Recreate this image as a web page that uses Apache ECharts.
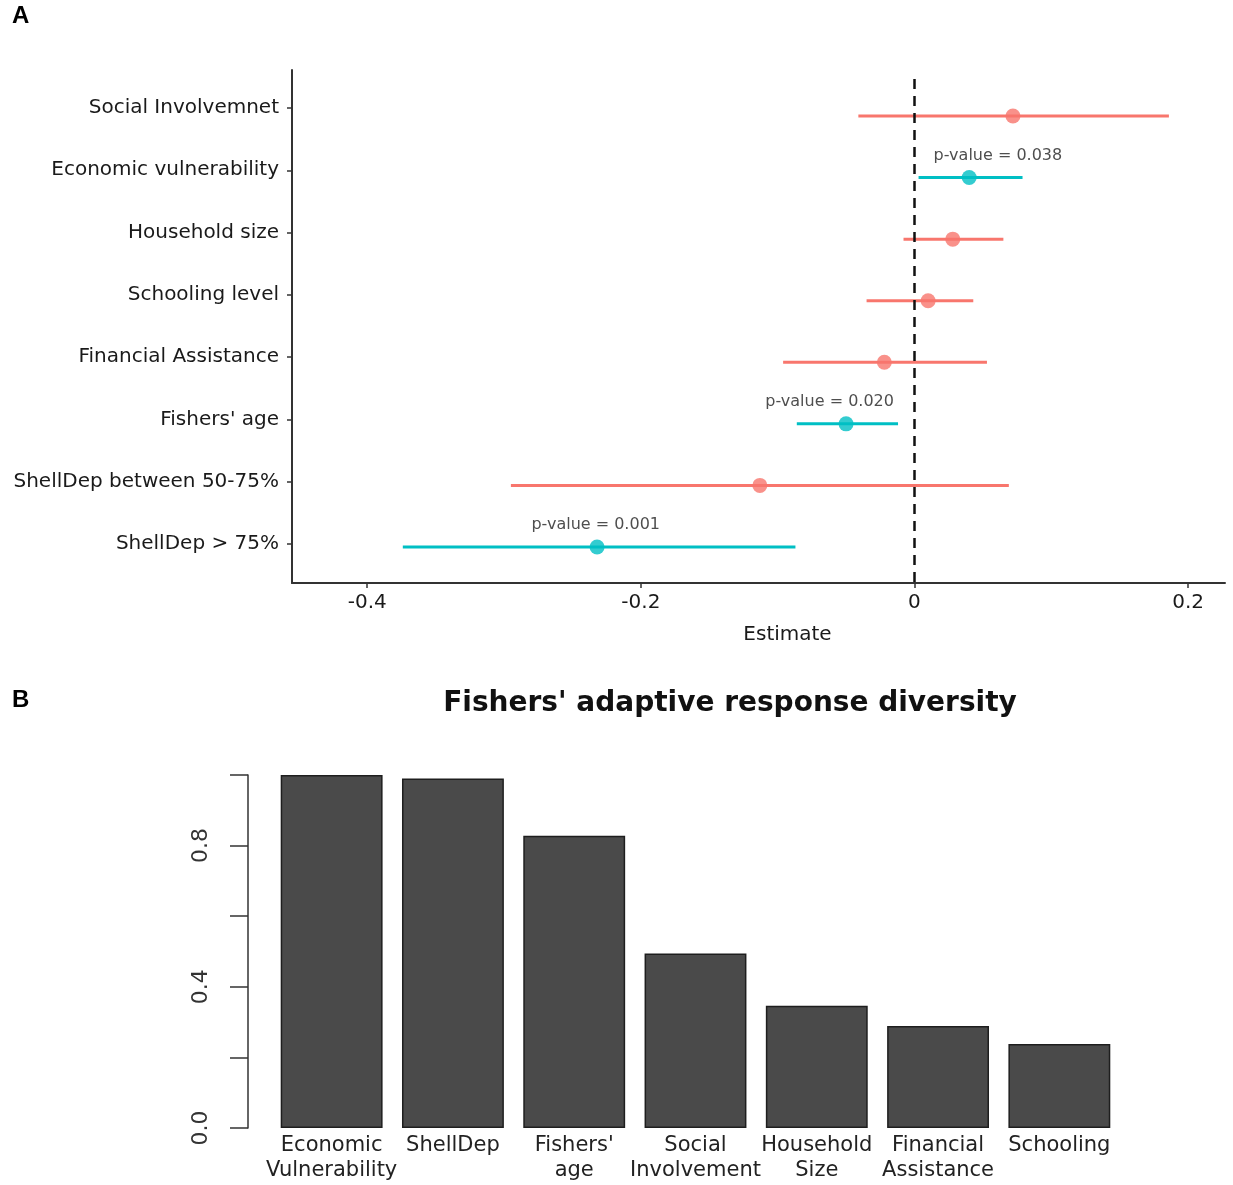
<!DOCTYPE html>
<html>
<head>
<meta charset="utf-8">
<script src="https://cdn.jsdelivr.net/npm/echarts@6/dist/echarts.min.js"></script>
<style>
html,body{margin:0;padding:0;background:#fff;}
#chart{width:1233px;height:1185px;}
</style>
</head>
<body>
<div id="chart"></div>
<script>
// ---------- Panel A data ----------
const forestCategories = ["Social Involvemnet","Economic vulnerability","Household size","Schooling level","Financial Assistance","Fishers' age","ShellDep between 50-75%","ShellDep > 75%"];
const forestEstimate = [0.072, 0.040, 0.028, 0.010, -0.022, -0.050, -0.113, -0.232];
const forestLow      = [-0.041, 0.003, -0.008, -0.035, -0.096, -0.086, -0.295, -0.374];
const forestHigh     = [0.186, 0.079, 0.065, 0.043, 0.053, -0.012, 0.069, -0.087];
const forestSignificant = [false, true, false, false, false, true, false, true];
const pValueRows = [2, 6, 8];
const pValueX = [0.061, -0.062, -0.233];
const pValueText = ["p-value = 0.038", "p-value = 0.020", "p-value = 0.001"];
const estimateTicks = [-0.4, -0.2, 0, 0.2];
const referenceLineX = 0;

// ---------- Panel B data ----------
const barCategories = ["Economic\nVulnerability","ShellDep","Fishers'\nage","Social\nInvolvement","Household\nSize","Financial\nAssistance","Schooling"];
const barValues = [1.0, 0.99, 0.828, 0.494, 0.346, 0.289, 0.238];
const barShownTicks = [0.0, 0.4, 0.8];

const RED = '#F8766D', TEAL = '#00BFC4';
const FONT = 'DejaVu Sans, Liberation Sans, Arial, sans-serif';
const rows = forestCategories.map((c, i) => i + 1);
const DATA_AXIS_MIN = 0.253, DATA_AXIS_MAX = 8.585;
const ROW_MIN = 0.4;

const chart = echarts.init(document.getElementById('chart'));
chart.setOption({
  animation: false,
  backgroundColor: '#fff',
  textStyle: { fontFamily: FONT },
  graphic: [
    { type: 'text', left: 12, top: 4, style: { text: 'A', font: 'bold 24px Liberation Sans, Arial, sans-serif', fill: '#000' } },
    { type: 'text', left: 12, top: 688, style: { text: 'B', font: 'bold 24px Liberation Sans, Arial, sans-serif', fill: '#000' } },
    { type: 'text', x: 730, y: 704, style: { text: "Fishers' adaptive response diversity", font: 'bold 28px ' + FONT, fill: '#111', align: 'center', verticalAlign: 'middle' } }
  ],
  grid: [
    { left: 292, top: 70, width: 933, height: 513 },
    { left: 271, top: 775, width: 849, height: 353 }
  ],
  xAxis: [
    {
      type: 'value', gridIndex: 0, min: -0.455, max: 0.227,
      axisLine: { show: true, onZero: false, lineStyle: { color: '#333', width: 2 } },
      axisTick: { show: true, length: 5, customValues: estimateTicks, lineStyle: { color: '#333', width: 1.5 } },
      axisLabel: { customValues: estimateTicks, fontSize: 20, color: '#1a1a1a', margin: 10,
        formatter: v => (Math.abs(v) < 1e-9 ? '0' : String(Math.round(v * 10) / 10)) },
      splitLine: { show: false },
      name: 'Estimate', nameLocation: 'middle', nameGap: 42,
      nameTextStyle: { fontSize: 20, color: '#1a1a1a', padding: [0, 0, 0, 58] }
    },
    {
      type: 'category', gridIndex: 1, data: barCategories,
      axisLine: { show: false }, axisTick: { show: false },
      axisLabel: { interval: 0, fontSize: 21, color: '#222', margin: 5, lineHeight: 25 }
    }
  ],
  yAxis: [
    {
      type: 'value', gridIndex: 0, inverse: true, min: 0.39, max: 8.626, position: 'left',
      axisLine: { show: true, onZero: false, lineStyle: { color: '#333', width: 2 } },
      axisTick: { show: true, length: 5, customValues: rows, lineStyle: { color: '#333', width: 1.5 } },
      axisLabel: { customValues: rows, fontSize: 20, color: '#1a1a1a', margin: 13,
        formatter: v => forestCategories[Math.round(v) - 1] || '' },
      splitLine: { show: false }
    },
    {
      type: 'value', gridIndex: 0, inverse: true, min: DATA_AXIS_MIN, max: DATA_AXIS_MAX, position: 'left', show: false,
      axisLine: { onZero: false }
    },
    {
      type: 'value', gridIndex: 1, min: 0, max: 1, interval: 0.2, offset: 23,
      axisLine: { show: true, onZero: false, lineStyle: { color: '#333', width: 1.5 } },
      axisTick: { show: true, length: 18, lineStyle: { color: '#333', width: 1.5 } },
      axisLabel: { rotate: 90, fontSize: 22, color: '#333', margin: 36,
        formatter: v => (barShownTicks.some(t => Math.abs(t - v) < 1e-6) ? v.toFixed(1) : '') },
      splitLine: { show: false }
    }
  ],
  series: [
    {
      type: 'custom', xAxisIndex: 0, yAxisIndex: 1, silent: true,
      data: forestCategories.map((c, i) => [forestLow[i], forestHigh[i], i + 1, forestSignificant[i] ? 1 : 0]),
      encode: { x: [0, 1], y: 2 },
      renderItem: (params, api) => {
        const p1 = api.coord([api.value(0), api.value(2)]);
        const p2 = api.coord([api.value(1), api.value(2)]);
        return { type: 'line', shape: { x1: p1[0], y1: p1[1], x2: p2[0], y2: p2[1] },
          style: { stroke: api.value(3) ? TEAL : RED, lineWidth: 3 } };
      },
      z: 2
    },
    {
      type: 'scatter', xAxisIndex: 0, yAxisIndex: 1, symbolSize: 15, silent: true,
      data: forestCategories.map((c, i) => ({ value: [forestEstimate[i], i + 1], itemStyle: { color: forestSignificant[i] ? TEAL : RED } })),
      markLine: {
        silent: true, symbol: 'none', label: { show: false },
        lineStyle: { color: '#111', width: 2.5, type: [10, 7] },
        data: [[{ coord: [referenceLineX, ROW_MIN] }, { coord: [referenceLineX, DATA_AXIS_MAX] }]]
      },
      z: 3
    },
    {
      type: 'scatter', xAxisIndex: 0, yAxisIndex: 1, symbolSize: 0, silent: true,
      data: pValueRows.map((r, i) => ({ value: [pValueX[i], r], label: { formatter: pValueText[i] } })),
      label: { show: true, position: 'top', distance: 14, fontSize: 16, color: '#222' },
      z: 4
    },
    {
      type: 'bar', xAxisIndex: 1, yAxisIndex: 2, data: barValues, barCategoryGap: '16%', silent: true,
      itemStyle: { color: '#4a4a4a', borderColor: '#1e1e1e', borderWidth: 1.5 }
    }
  ]
});
</script>
</body>
</html>
